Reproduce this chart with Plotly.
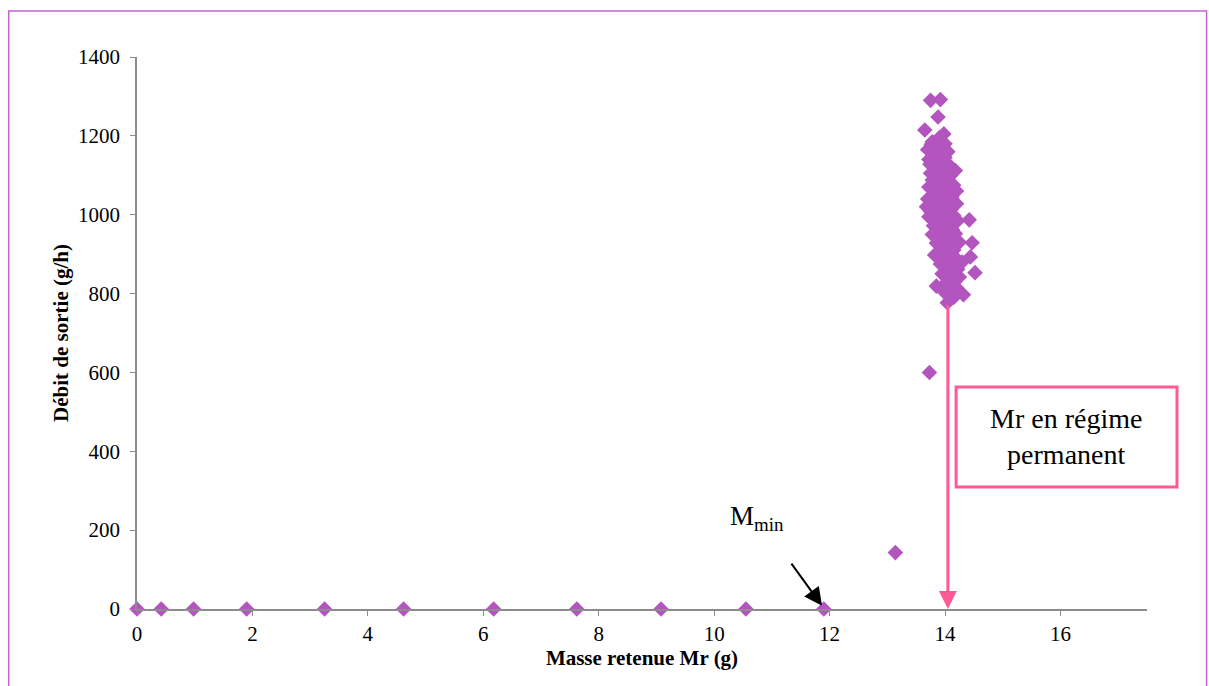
import plotly.graph_objects as go

# Low-regime points (mass retained, output flow)
low_x = [0.0, 0.42, 0.98, 1.9, 3.25, 4.62, 6.18, 7.62, 9.08, 10.55, 11.9, 13.14, 13.73]
low_y = [0, 0, 0, 0, 0, 0, 0, 0, 0, 0, 0, 143, 600]

# Steady-state cluster
cluster_x = [13.75, 13.92, 13.88, 13.65, 13.98, 13.9, 14.0, 13.78, 13.85, 13.7, 13.95, 14.05,
             13.8, 13.9, 14.0, 13.72, 13.85, 13.95, 14.08, 14.18, 13.8, 13.9, 14.0, 13.75,
             13.85, 13.95, 14.1, 14.05, 13.78, 13.9, 14.0, 14.15, 13.82, 13.72, 13.95, 14.08,
             14.2, 13.88, 13.78, 14.0, 14.12, 13.7, 13.85, 13.95, 14.05, 14.2, 13.8, 13.9,
             14.0, 14.1, 13.75, 13.85, 13.95, 14.15, 14.05, 13.72, 13.82, 13.9, 14.0, 14.22,
             14.42, 14.1, 13.8, 13.88, 13.98, 14.08, 14.18, 13.78, 13.92, 14.02, 14.12, 14.25,
             14.47, 13.85, 13.95, 14.05, 14.15, 13.82, 13.9, 14.0, 14.1, 14.2, 14.44, 14.3,
             13.92, 14.02, 14.12, 14.22, 14.52, 13.95, 14.05, 14.15, 14.25, 13.85, 14.0, 14.1,
             14.2, 13.98, 14.08, 14.32, 14.15, 14.04, 13.68, 13.74, 13.83, 13.93, 14.03, 14.13,
             13.76, 13.86, 13.96, 14.06, 13.8, 13.9, 14.0, 14.1, 13.87, 13.97, 14.07, 14.17]
cluster_y = [1290, 1292, 1248, 1215, 1205, 1195, 1180, 1185, 1170, 1165, 1165, 1160,
             1150, 1150, 1145, 1140, 1135, 1130, 1125, 1112, 1120, 1115, 1110, 1105,
             1100, 1098, 1100, 1090, 1088, 1085, 1080, 1075, 1072, 1070, 1068, 1062,
             1060, 1058, 1050, 1050, 1045, 1040, 1040, 1035, 1030, 1028, 1025, 1020,
             1015, 1012, 1008, 1005, 1000, 998, 995, 995, 990, 985, 980, 985,
             987, 975, 972, 965, 960, 958, 952, 950, 945, 940, 935, 930,
             929, 928, 920, 915, 910, 898, 905, 895, 890, 888, 893, 880,
             875, 870, 868, 862, 853, 850, 845, 840, 842, 819, 825, 820,
             815, 805, 800, 797, 790, 777, 1020, 1128, 1082, 1042, 1002, 962,
             1178, 1058, 1018, 938, 1110, 1070, 1032, 992, 948, 908, 858, 830]

x_ticks = [0, 2, 4, 6, 8, 10, 12, 14, 16]
y_ticks = [0, 200, 400, 600, 800, 1000, 1200, 1400]

steady_mr = 14.05
arrow_top = 775

PURPLE = "#B355BE"
PINK = "#FF5A96"
FONT = "Liberation Serif"

fig = go.Figure()
fig.add_trace(go.Scatter(x=low_x + cluster_x, y=low_y + cluster_y, mode="markers",
                         marker=dict(symbol="diamond", size=12, color=PURPLE, line=dict(width=0)),
                         cliponaxis=False, showlegend=False))

axis_common = dict(showgrid=False, zeroline=False, showline=True, linecolor="#8C8C8C",
                   linewidth=1.5, ticks="outside", ticklen=5, tickcolor="#8C8C8C",
                   tickfont=dict(family=FONT, size=21, color="black"))

fig.update_layout(
    width=1209, height=686,
    margin=dict(l=137, r=62, t=57, b=77),
    paper_bgcolor="white", plot_bgcolor="white",
    xaxis=dict(range=[0, 17.5], tickvals=x_ticks,
               title=dict(text="<b>Masse retenue Mr (g)</b>", font=dict(family=FONT, size=21, color="black"), standoff=4),
               **axis_common),
    yaxis=dict(range=[0, 1400], tickvals=y_ticks, ticklabelstandoff=6,
               title=dict(text="<b>Débit de sortie (g/h)</b>", font=dict(family=FONT, size=21, color="black"), standoff=4),
               **axis_common),
    shapes=[
        dict(type="rect", xref="paper", yref="paper", x0=-0.127, x1=1.059, y0=-0.2, y1=1.0833,
             line=dict(color="#C166CC", width=1.5), layer="below"),
        dict(type="rect", xref="paper", yref="paper", x0=0.811, x1=1.0297, y0=0.221, y1=0.402,
             line=dict(color=PINK, width=3), fillcolor="white"),
    ],
    annotations=[
        dict(x=steady_mr, y=0, xref="x", yref="y", ax=steady_mr, ay=arrow_top, axref="x", ayref="y",
             showarrow=True, arrowhead=2, arrowsize=1.2, arrowwidth=3, arrowcolor=PINK, text=""),
        dict(x=11.87, y=8, xref="x", yref="y", ax=11.32, ay=119, axref="x", ayref="y",
             showarrow=True, arrowhead=2, arrowsize=1.8, arrowwidth=2, arrowcolor="black", text=""),
        dict(x=10.75, y=231, xref="x", yref="y", showarrow=False, xanchor="center", yanchor="middle",
             text="M<sub>min</sub>", font=dict(family=FONT, size=27, color="black")),
        dict(x=0.92, y=0.3116, xref="paper", yref="paper", showarrow=False,
             xanchor="center", yanchor="middle",
             text="Mr en régime<br>permanent", font=dict(family=FONT, size=28, color="black")),
    ],
)

fig.write_html("out.html", config={"displayModeBar": False},
               post_script="document.body.style.margin='0';document.body.style.overflow='hidden';")
